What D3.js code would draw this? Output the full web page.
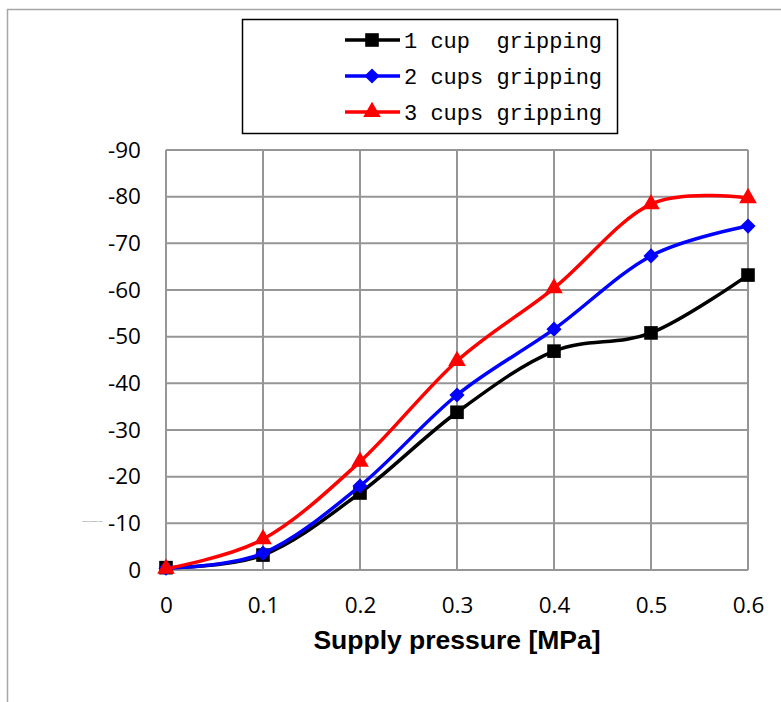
<!DOCTYPE html>
<html>
<head>
<meta charset="utf-8">
<script src="https://cdn.jsdelivr.net/npm/d3@7"></script>
<style>
  body { margin: 0; background: #fff; }
  svg { display: block; }
</style>
</head>
<body>
<svg id="chart" width="781" height="702"></svg>
<script>
const pressures = [0, 0.1, 0.2, 0.3, 0.4, 0.5, 0.6];
const oneCup = [-0.5, -3.2, -16.5, -33.8, -46.9, -50.8, -63.2];
const twoCups = [-0.4, -3.6, -18.0, -37.5, -51.6, -67.3, -73.7];
const threeCups = [-0.3, -6.6, -23.2, -44.8, -60.4, -78.4, -79.7];
const seriesNames = ['1 cup  gripping', '2 cups gripping', '3 cups gripping'];
const yTicks = [0, -10, -20, -30, -40, -50, -60, -70, -80, -90];
const xTicks = [0, 0.1, 0.2, 0.3, 0.4, 0.5, 0.6];

const svg = d3.select('#chart');

// outer chart frame (runs off the right and bottom edge)
svg.append('path')
  .attr('d', 'M7.5,702 L7.5,9.5 L781,9.5')
  .style('fill', 'none')
  .style('stroke', '#a6a6a6')
  .style('stroke-width', 1.5);

const plotLeft = 166, plotRight = 748, plotTop = 150, plotBottom = 570;

const x = d3.scaleLinear().domain([0, 0.6]).range([plotLeft, plotRight]);
const y = d3.scaleLinear().domain([0, -90]).range([plotBottom, plotTop]);

// grid
const grid = svg.append('g');
grid.selectAll('.hg').data(yTicks).enter().append('line')
  .attr('x1', plotLeft).attr('x2', plotRight)
  .attr('y1', d => y(d)).attr('y2', d => y(d))
  .style('stroke', '#969696').style('stroke-width', 2);
grid.selectAll('.vg').data(xTicks).enter().append('line')
  .attr('y1', plotTop).attr('y2', plotBottom)
  .attr('x1', d => x(d)).attr('x2', d => x(d))
  .style('stroke', '#969696').style('stroke-width', 2);

// axes labels
const yAxis = svg.append('g')
  .attr('transform', `translate(${plotLeft - 22}, 0)`)
  .call(d3.axisLeft(y).tickValues(yTicks).tickSize(0).tickFormat(d => String(d)));
yAxis.select('.domain').remove();
yAxis.selectAll('text')
  .style('font-family', '"Open Sans", sans-serif')
  .style('font-size', '22.5px')
  .style('fill', '#000');

const xAxis = svg.append('g')
  .attr('transform', `translate(0, ${plotBottom + 24})`)
  .call(d3.axisBottom(x).tickValues(xTicks).tickSize(0).tickFormat(d => String(d)));
xAxis.select('.domain').remove();
xAxis.selectAll('text')
  .style('font-family', '"Open Sans", sans-serif')
  .style('font-size', '22.5px')
  .style('fill', '#000');

svg.append('text')
  .attr('x', 457).attr('y', 649)
  .attr('text-anchor', 'middle')
  .style('font-family', '"Liberation Sans", Arial, sans-serif')
  .style('font-weight', 'bold')
  .style('font-size', '26.5px')
  .text('Supply pressure [MPa]');

// tiny leftover y title
svg.append('text')
  .attr('x', 82).attr('y', 522)
  .style('font-family', '"Liberation Sans", Arial, sans-serif')
  .style('font-size', '2px')
  .style('fill', '#555')
  .text('Vacuum pressure [kPa]');

const series = [
  { name: seriesNames[0], values: oneCup, color: '#000000', symbol: d3.symbolSquare, size: 185, rot: 0 },
  { name: seriesNames[1], values: twoCups, color: '#0000ff', symbol: d3.symbolSquare, size: 115, rot: 45 },
  { name: seriesNames[2], values: threeCups, color: '#ff0000', symbol: d3.symbolTriangle, size: 135, rot: 0 }
];

const line = d3.line()
  .x(d => x(d[0]))
  .y(d => y(d[1]))
  .curve(d3.curveCardinal.tension(0));

series.forEach(s => {
  const pts = pressures.map((p, i) => [p, s.values[i]]);
  svg.append('path')
    .datum(pts)
    .attr('d', line)
    .style('fill', 'none')
    .style('stroke', s.color)
    .style('stroke-width', 3.5);
  svg.selectAll(null).data(pts).enter().append('path')
    .attr('transform', d => `translate(${x(d[0])}, ${y(d[1])}) rotate(${s.rot})`)
    .attr('d', d3.symbol().type(s.symbol).size(s.size))
    .style('fill', s.color);
});

// legend
const legend = svg.append('g');
legend.append('rect')
  .attr('x', 242.5).attr('y', 19.5)
  .attr('width', 375).attr('height', 114)
  .style('fill', '#fff')
  .style('stroke', '#000')
  .style('stroke-width', 1.5);

series.forEach((s, i) => {
  const ly = 40 + i * 36;
  legend.append('line')
    .attr('x1', 345).attr('x2', 400)
    .attr('y1', ly).attr('y2', ly)
    .style('stroke', s.color).style('stroke-width', 3.5);
  legend.append('path')
    .attr('transform', `translate(372, ${ly}) rotate(${s.rot})`)
    .attr('d', d3.symbol().type(s.symbol).size(s.size))
    .style('fill', s.color);
  legend.append('text')
    .attr('x', 404).attr('y', ly + 8)
    .style('font-family', '"Liberation Mono", "DejaVu Sans Mono", monospace')
    .style('font-size', '22px')
    .style('white-space', 'pre')
    .attr('xml:space', 'preserve')
    .text(s.name);
});
</script>
</body>
</html>
